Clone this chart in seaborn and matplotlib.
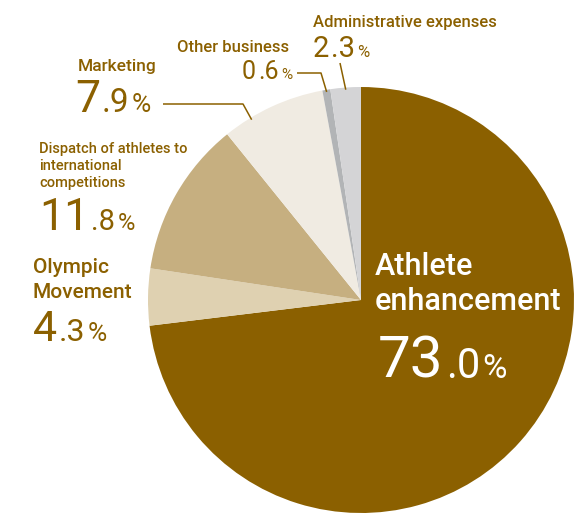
import numpy as np
import matplotlib
matplotlib.use("Agg")
import matplotlib.pyplot as plt
import seaborn as sns

# expense breakdown (%), clockwise from 12 o'clock
categories = ["Athlete enhancement", "Olympic Movement",
              "Dispatch of athletes to international competitions",
              "Marketing", "Other business", "Administrative expenses"]
label_lines = [["Athlete", "enhancement"], ["Olympic", "Movement"],
               ["Dispatch of athletes to", "international", "competitions"],
               ["Marketing"], ["Other business"], ["Administrative expenses"]]
shares = [73.0, 4.3, 11.8, 7.9, 0.6, 2.3]
colors = ["#8B6000", "#DFD1B1", "#C6AF80", "#F0EBE2", "#B2B4B6", "#D4D4D6"]

BROWN = "#8B6000"
W, H = 585, 513
CX, CY, R = 361, 300, 213   # pie centre / radius in pixels (from top-left)

sns.set_theme(style="white")
plt.rcParams["font.family"] = ["Roboto", "DejaVu Sans"]

fig = plt.figure(figsize=(W / 100, H / 100), dpi=100)
ax = fig.add_axes([0, 0, 1, 1])
ax.set_aspect("equal")
ax.axis("off")

wedges, _ = ax.pie(shares, colors=colors, startangle=90, counterclock=False,
                   center=(CX, H - CY), radius=R,
                   wedgeprops=dict(linewidth=0))
ax.set_xlim(0, W)
ax.set_ylim(0, H)


def Y(py):
    return H - py


# label layout: (x, first baseline y, line step, fontsize, colour)
label_pos = [(375, 275, 35, 22, "white"),
             (33, 273, 25, 15, BROWN),
             (39, 153, 17, 10.5, BROWN),
             (78, 71, 0, 12.5, BROWN),
             (177, 52, 0, 12, BROWN),
             (313, 27, 0, 12, BROWN)]
# value layout: (x, baseline y, big size, decimal size, % size)
value_pos = [(378, 378, 42, 30, 24),
             (33, 341, 31, 23, 19),
             (39, 230, 32, 21, 17),
             (75, 112, 32, 24, 19),
             (242, 79, 18, 18, 11),
             (313, 57, 21, 21, 12)]

for lines, (x, y, step, fs, col) in zip(label_lines, label_pos):
    for i, line in enumerate(lines):
        ax.text(x, Y(y + i * step), line, fontsize=fs, color=col,
                fontweight="medium", ha="left", va="baseline")

for i, (v, (x, y, s_big, s_dec, s_pct)) in enumerate(zip(shares, value_pos)):
    col = label_pos[i][4]
    whole, dec = f"{v:.1f}".split(".")
    t = ax.text(x, Y(y), whole, fontsize=s_big, color=col,
                ha="left", va="baseline")
    t = ax.annotate("." + dec, xy=(1, Y(y)), xycoords=(t, "data"),
                    xytext=(1.5, 0), textcoords="offset points",
                    fontsize=s_dec, color=col, ha="left", va="baseline")
    ax.annotate("%", xy=(1, Y(y)), xycoords=(t, "data"),
                xytext=(1.5, 0), textcoords="offset points",
                fontsize=s_pct, color=col, ha="left", va="baseline")


def edge_point(w, frac, rfrac=0.99):
    th = np.deg2rad(w.theta1 + frac * (w.theta2 - w.theta1))
    cx, cy = w.center
    return cx + w.r * rfrac * np.cos(th), cy + w.r * rfrac * np.sin(th)


# leader lines: wedge index, angular fraction, path start points (pixels)
leaders = [(3, 0.73, [(163, 104), (243, 104)]),
           (4, 0.5, [(297, 73), (321, 73)]),
           (5, 0.5, [(340, 63)])]
for idx, frac, pts in leaders:
    ex, ey = edge_point(wedges[idx], frac)
    xs = [p[0] for p in pts] + [ex]
    ys = [Y(p[1]) for p in pts] + [ey]
    ax.plot(xs, ys, color=BROWN, lw=1.1, solid_capstyle="butt")

fig.savefig("out.png", dpi=100)
